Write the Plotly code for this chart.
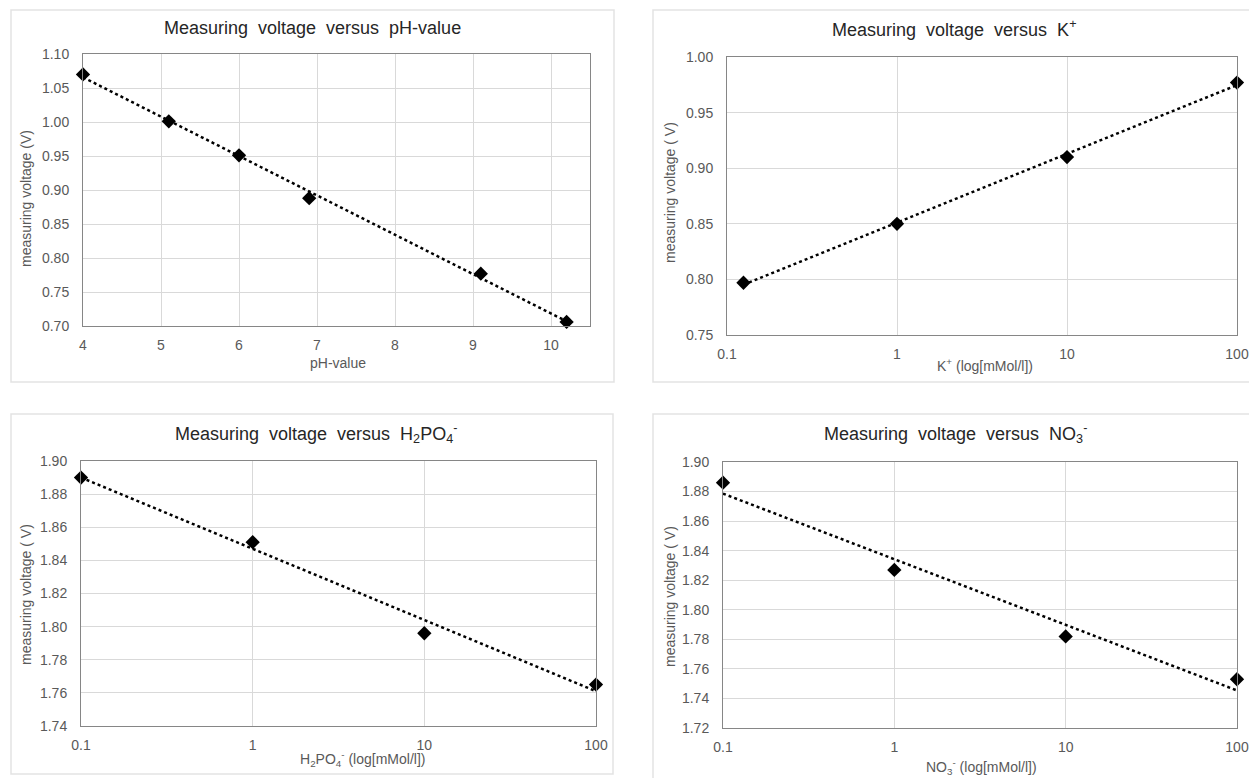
import numpy as np
import plotly.graph_objects as go

W, H = 1249, 778

# ---------------- data ----------------
ph_values = [4.0, 5.1, 6.0, 6.9, 9.1, 10.2]
ph_voltage = [1.070, 1.001, 0.951, 0.888, 0.777, 0.706]

k_conc = [0.125, 1, 10, 100]
k_voltage = [0.797, 0.850, 0.910, 0.977]

h2po4_conc = [0.1, 1, 10, 100]
h2po4_voltage = [1.890, 1.851, 1.796, 1.765]

no3_conc = [0.1, 1, 10, 100]
no3_voltage = [1.886, 1.827, 1.782, 1.753]

ph_ticks = [4, 5, 6, 7, 8, 9, 10]
log_ticks = [0.1, 1, 10, 100]
log_tick_labels = ["0.1", "1", "10", "100"]

titles = [
    "Measuring  voltage  versus  pH-value",
    "Measuring  voltage  versus  K<sup>+</sup>",
    "Measuring  voltage  versus  H<sub>2</sub>PO<sub>4</sub><sup>-</sup>",
    "Measuring  voltage  versus  NO<sub>3</sub><sup>-</sup>",
]
x_titles = [
    "pH-value",
    "K<sup>+</sup> (log[mMol/l])",
    "H<sub>2</sub>PO<sub>4</sub><sup>-</sup> (log[mMol/l])",
    "NO<sub>3</sub><sup>-</sup> (log[mMol/l])",
]
y_titles = [
    "measuring voltage (V)",
    "measuring voltage ( V)",
    "measuring voltage ( V)",
    "measuring voltage ( V)",
]

FONT = "Liberation Sans, Arial, sans-serif"
TICK_COLOR = "#595959"
GRID = "#d9d9d9"
AXLINE = "#868686"


def xd(a, b):
    return [a / W, b / W]


def yd(top, bottom):
    return [1 - bottom / H, 1 - top / H]


def px(x):
    return x / W


def py(y):
    return 1 - y / H


fig = go.Figure()


def add_panel(i, x, y, logx):
    xa = "x" if i == 1 else f"x{i}"
    ya = "y" if i == 1 else f"y{i}"
    xarr = np.array(x, dtype=float)
    yarr = np.array(y, dtype=float)
    if logx:
        t = np.log10(xarr)
        m, c = np.polyfit(t, yarr, 1)
        xs = [xarr.min(), xarr.max()]
        ys = [m * np.log10(v) + c for v in xs]
    else:
        m, c = np.polyfit(xarr, yarr, 1)
        xs = [xarr.min(), xarr.max()]
        ys = [m * v + c for v in xs]
    fig.add_trace(go.Scatter(x=xs, y=ys, mode="lines", xaxis=xa, yaxis=ya,
                             line=dict(color="black", width=2.5, dash="dot"),
                             showlegend=False, hoverinfo="skip", cliponaxis=False))
    fig.add_trace(go.Scatter(x=x, y=y, mode="markers", xaxis=xa, yaxis=ya,
                             marker=dict(symbol="diamond", size=11, color="black"),
                             showlegend=False, cliponaxis=False))


add_panel(1, ph_values, ph_voltage, False)
add_panel(2, k_conc, k_voltage, True)
add_panel(3, h2po4_conc, h2po4_voltage, True)
add_panel(4, no3_conc, no3_voltage, True)

common_ax = dict(showgrid=True, gridcolor=GRID, gridwidth=1, zeroline=False,
                 showline=True, mirror=True, linecolor=AXLINE, linewidth=1,
                 ticks="", automargin=False,
                 tickfont=dict(family=FONT, size=14, color=TICK_COLOR))

layout = dict(
    width=W, height=H, margin=dict(l=0, r=0, t=0, b=0, pad=0),
    paper_bgcolor="white", plot_bgcolor="white", showlegend=False,
    font=dict(family=FONT),
)

# panel 1
layout["xaxis"] = dict(common_ax, domain=xd(83, 590), range=[4, 10.5], tickvals=ph_ticks,
                       anchor="y", ticklabelstandoff=6)
layout["yaxis"] = dict(common_ax, domain=yd(54, 326), range=[0.70, 1.10], dtick=0.05,
                       tickformat=".2f", anchor="x", ticklabelstandoff=10)
# panel 2
layout["xaxis2"] = dict(common_ax, domain=xd(727, 1237), type="log", range=[-1, 2],
                        tickvals=log_ticks, ticktext=log_tick_labels, anchor="y2",
                        ticklabelstandoff=6)
layout["yaxis2"] = dict(common_ax, domain=yd(57, 335), range=[0.75, 1.00], dtick=0.05,
                        tickformat=".2f", anchor="x2", ticklabelstandoff=10)
# panel 3
layout["xaxis3"] = dict(common_ax, domain=xd(81, 596), type="log", range=[-1, 2],
                        tickvals=log_ticks, ticktext=log_tick_labels, anchor="y3",
                        ticklabelstandoff=6)
layout["yaxis3"] = dict(common_ax, domain=yd(461, 726), range=[1.74, 1.90], dtick=0.02,
                        tickformat=".2f", anchor="x3", ticklabelstandoff=10)
# panel 4
layout["xaxis4"] = dict(common_ax, domain=xd(723, 1237), type="log", range=[-1, 2],
                        tickvals=log_ticks, ticktext=log_tick_labels, anchor="y4",
                        ticklabelstandoff=6)
layout["yaxis4"] = dict(common_ax, domain=yd(462, 728), range=[1.72, 1.90], dtick=0.02,
                        tickformat=".2f", anchor="x4", ticklabelstandoff=10)

fig.update_layout(**layout)

# chart-area borders
borders = [(11, 10, 614, 382), (653, 10, 1258, 382), (11, 414, 613, 774), (653, 414, 1258, 792)]
for (x0, y0, x1, y1) in borders:
    fig.add_shape(type="rect", xref="paper", yref="paper",
                  x0=px(x0), x1=px(x1), y0=py(y1), y1=py(y0),
                  line=dict(color="#e3e3e3", width=1.5), layer="below")

ann = []
title_pos = [(312, 28), (954, 28), (316, 433), (955, 433)]
for t, (x, y) in zip(titles, title_pos):
    ann.append(dict(text=t, x=px(x), y=py(y), xref="paper", yref="paper",
                    xanchor="center", yanchor="middle", showarrow=False,
                    font=dict(family=FONT, size=18, color="#262626")))
xt_pos = [(338, 363), (985, 365), (362, 759), (981, 767)]
for t, (x, y) in zip(x_titles, xt_pos):
    ann.append(dict(text=t, x=px(x), y=py(y), xref="paper", yref="paper",
                    xanchor="center", yanchor="middle", showarrow=False,
                    font=dict(family=FONT, size=14, color=TICK_COLOR)))
yt_pos = [(26, 199), (670, 193), (26, 595), (670, 597)]
for t, (x, y) in zip(y_titles, yt_pos):
    ann.append(dict(text=t, x=px(x), y=py(y), xref="paper", yref="paper",
                    xanchor="center", yanchor="middle", showarrow=False, textangle=-90,
                    font=dict(family=FONT, size=14, color=TICK_COLOR)))
fig.update_layout(annotations=ann)

fig.write_html(
    "out.html",
    config={"displayModeBar": False},
    post_script=(
        "document.documentElement.style.margin='0';"
        "document.documentElement.style.padding='0';"
        "document.body.style.margin='0';"
        "document.body.style.padding='0';"
        "document.body.style.overflow='hidden';"
    ),
)
